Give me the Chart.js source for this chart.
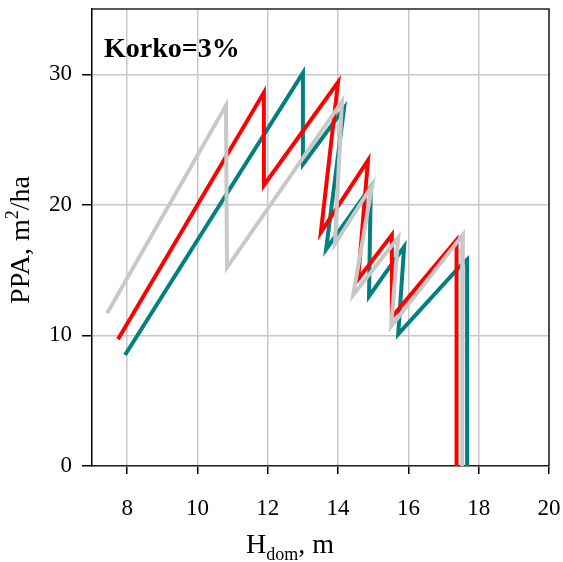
<!DOCTYPE html>
<html>
<head>
<meta charset="utf-8">
<script src="https://cdn.jsdelivr.net/npm/chart.js@4.4.0/dist/chart.umd.min.js"></script>
<style>
  html, body { margin: 0; padding: 0; background: #fff; }
  #wrap { width: 563px; height: 562px; }
</style>
</head>
<body>
<div id="wrap"><canvas id="chart"></canvas></div>
<script>
const xTicks = [8, 10, 12, 14, 16, 18, 20];
const yTicks = [0, 10, 20, 30];

// H_dom (m) and PPA (m2/ha), three runs
const tealX = [7.94, 13.00, 13.00, 14.17, 13.66, 14.93, 14.88, 15.88, 15.71, 17.47, 17.67, 17.67];
const tealY = [8.5, 30.1, 23.1, 27.4, 16.6, 21.4, 13.0, 16.8, 10.1, 15.3, 15.8, 0];

const redX = [7.74, 11.89, 11.89, 14.00, 13.51, 14.85, 14.57, 15.53, 15.53, 17.37, 17.37];
const redY = [9.7, 28.6, 21.5, 29.4, 17.9, 23.4, 14.3, 17.7, 11.4, 17.3, 0];

const grayX = [7.43, 10.81, 10.84, 14.11, 13.91, 14.97, 14.43, 15.71, 15.51, 17.55, 17.53];
const grayY = [11.7, 27.6, 15.2, 27.9, 17.0, 21.5, 13.1, 17.5, 10.7, 17.7, 0];

const serif = '"Liberation Serif", "Times New Roman", serif';

function pts(xs, ys) {
  return xs.map((x, i) => ({ x: x, y: ys[i] }));
}

function line(data, color, order) {
  return {
    data: data,
    showLine: true,
    borderColor: color,
    backgroundColor: color,
    borderWidth: 4,
    pointRadius: 0,
    pointHoverRadius: 0,
    borderJoinStyle: 'miter',
    order: order,
  };
}

const labelsPlugin = {
  id: 'labels',
  afterDraw(chart) {
    const { ctx, chartArea: a } = chart;
    ctx.save();
    ctx.strokeStyle = '#222';
    ctx.lineWidth = 1.5;
    ctx.beginPath();
    ctx.moveTo(a.left, a.top);
    ctx.lineTo(a.right, a.top);
    ctx.lineTo(a.right, a.bottom);
    ctx.stroke();

    ctx.fillStyle = '#000';
    ctx.textBaseline = 'alphabetic';
    ctx.textAlign = 'left';
    ctx.font = 'bold 28px ' + serif;
    ctx.fillText('Korko=3%', a.left + 12, 57);

    // x title: H_dom, m
    const big = '28px ' + serif, small = '18px ' + serif;
    ctx.font = big;
    const w1 = ctx.measureText('H').width;
    const w3 = ctx.measureText(', m').width;
    ctx.font = small;
    const w2 = ctx.measureText('dom').width;
    let x = 290 - (w1 + w2 + w3) / 2;
    const base = 553;
    ctx.font = big; ctx.fillText('H', x, base); x += w1;
    ctx.font = small; ctx.fillText('dom', x, base + 7); x += w2;
    ctx.font = big; ctx.fillText(', m', x, base);

    // y title: PPA, m^2/ha
    ctx.translate(29, 240);
    ctx.rotate(-Math.PI / 2);
    ctx.font = big;
    const v1 = ctx.measureText('PPA, m').width;
    const v3 = ctx.measureText('/ha').width;
    ctx.font = small;
    const v2 = ctx.measureText('2').width;
    let y = -(v1 + v2 + v3) / 2;
    ctx.font = big; ctx.fillText('PPA, m', y, 0); y += v1;
    ctx.font = small; ctx.fillText('2', y, -11); y += v2;
    ctx.font = big; ctx.fillText('/ha', y, 0);
    ctx.restore();
  }
};

new Chart(document.getElementById('chart'), {
  type: 'scatter',
  data: {
    datasets: [
      line(pts(grayX, grayY), '#c8c8c8', 0),
      line(pts(redX, redY), '#ff0000', 1),
      line(pts(tealX, tealY), '#008080', 2),
    ],
  },
  options: {
    responsive: true,
    maintainAspectRatio: false,
    animation: false,
    layout: { padding: { top: 9, right: 14, left: 0, bottom: 0 } },
    plugins: {
      legend: { display: false },
      tooltip: { enabled: false },
    },
    scales: {
      x: {
        type: 'linear',
        min: 7,
        max: 20,
        afterBuildTicks: (axis) => { axis.ticks = xTicks.map(v => ({ value: v })); },
        afterFit: (axis) => { axis.height = 96; axis.paddingLeft = 0; axis.paddingRight = 0; },
        grid: { color: '#c8c8c8', lineWidth: 1.5, tickColor: '#000', tickLength: 8, tickWidth: 1.5 },
        border: { display: true, color: '#222', width: 1.5 },
        ticks: { color: '#000', font: { family: serif, size: 23 }, padding: 21, maxRotation: 0 },
      },
      y: {
        type: 'linear',
        min: 0,
        max: 35,
        afterBuildTicks: (axis) => { axis.ticks = yTicks.map(v => ({ value: v })); },
        afterFit: (axis) => { axis.width = 92; axis.paddingTop = 0; axis.paddingBottom = 0; },
        grid: { color: '#c8c8c8', lineWidth: 1.5, tickColor: '#000', tickLength: 10, tickWidth: 1.5 },
        border: { display: true, color: '#000', width: 1.5 },
        ticks: { color: '#000', font: { family: serif, size: 23 }, padding: 10 },
      },
    },
  },
  plugins: [labelsPlugin],
});
</script>
</body>
</html>
